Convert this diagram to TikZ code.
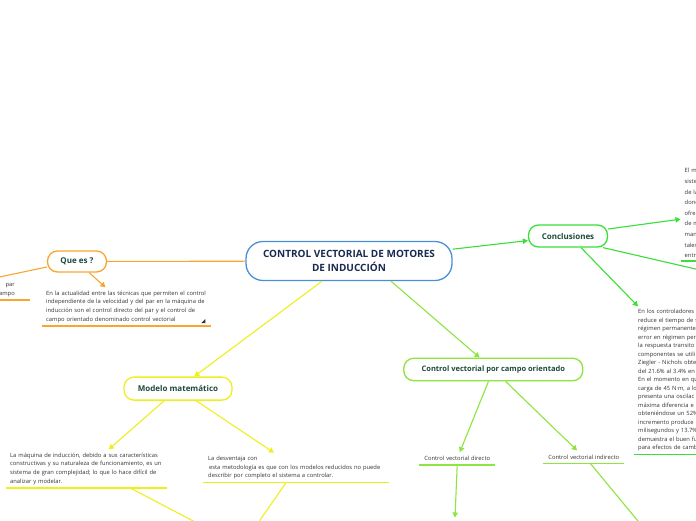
\documentclass[tikz,border=0pt]{standalone}
\usepackage{fontspec}
\setmainfont{Open Sans}
\usetikzlibrary{arrows.meta,calc}
\definecolor{cOr}{HTML}{F9A630}
\definecolor{cYel}{HTML}{EFEF1E}
\definecolor{cLg}{HTML}{8EE53F}
\definecolor{cGr}{HTML}{3ADF3A}
\definecolor{cBlue}{HTML}{4A90D9}
\definecolor{cNavy}{HTML}{1A2B50}
\definecolor{cTitle}{HTML}{1D4A3A}
\definecolor{cBody}{HTML}{333333}
\newcommand\Lin[1]{\makebox[0pt][l]{#1}}
\begin{document}
\begin{tikzpicture}[x=1pt,y=-1pt,
  conn/.style={line width=1.1pt},
  arr/.style={conn,-{Triangle[length=5pt,width=5.5pt]}},
  topic/.style={draw,line width=1.3pt,rounded corners=10pt,font=\bfseries\fontsize{8}{10}\selectfont,text=cTitle,inner sep=0pt},
  txt/.style={inner xsep=4pt,inner ysep=3pt,align=left,text=cBody,font=\fontsize{5.8}{8.8}\selectfont},
  ul/.style={line width=1.6pt}]
\useasboundingbox (0,0) rectangle (696,520);
\fill[white] (0,0) rectangle (696,520);

% topics
\node[topic,draw=cBlue,minimum width=206pt,minimum height=39pt,rounded corners=17pt,text=cNavy,font=\bfseries\fontsize{10}{13.3}\selectfont,align=center] (central) at (349,261) {CONTROL VECTORIAL DE MOTORES\\DE INDUCCIÓN};
\node[topic,draw=cOr,minimum width=59pt,minimum height=21pt] (quees) at (77,261.5) {Que es ?};
\node[topic,draw=cYel,minimum width=108pt,minimum height=23pt] (modelo) at (178,388.6) {Modelo matemático};
\node[topic,draw=cLg,minimum width=179pt,minimum height=22.5pt,font=\bfseries\fontsize{7.5}{9}\selectfont] (cvpc) at (493.3,369.5) {Control vectorial por campo orientado};
\node[topic,draw=cGr,minimum width=79pt,minimum height=22pt] (concl) at (568,236) {Conclusiones};

% text blocks
\node[txt,text width=161pt,anchor=south west] (actual) at (42,326) {\Lin{En la actualidad entre las técnicas que permiten el control}\\\Lin{independiente de la velocidad y del par en la máquina de}\\\Lin{inducción son el control directo del par y el control de}\\\Lin{campo orientado denominado control vectorial}};
\draw[ul,cOr] (actual.south west) -- (actual.south east);
\fill[black!80] ([shift={(-6,-3)}]actual.south east) -- ++(0,-4) -- ++(-4,4) -- cycle;

\node[txt,align=right,text width=26pt,anchor=south east] (parcampo) at (19,300) {par\\campo};
\draw[ul,cOr] (parcampo.south west) -- ([xshift=11pt]parcampo.south east);

\node[txt,text width=153pt,anchor=south west] (maq) at (6,488) {\Lin{La máquina de inducción, debido a sus características}\\\Lin{constructivas y su naturaleza de funcionamiento, es un}\\\Lin{sistema de gran complejidad; lo que lo hace difícil de}\\\Lin{analizar y modelar.}};
\draw[ul,cYel] (maq.south west) -- (maq.south east);

\node[txt,text width=176pt,anchor=south west,inner xsep=5pt] (desv) at (203,482.5) {\Lin{La desventaja con}\\\Lin{\,esta metodología es que con los modelos reducidos no puede}\\\Lin{describir por completo el sistema a controlar.}};
\draw[ul,cYel] (desv.south west) -- (desv.south east);

\node[txt,align=center,text width=68pt,anchor=south west,inner ysep=4pt] (directo) at (419,465) {Control vectorial directo};
\draw[ul,cLg] (directo.south west) -- (directo.south east);

\node[txt,align=center,text width=73pt,anchor=south west,inner ysep=4pt] (indirecto) at (543,463.3) {Control vectorial indirecto};
\draw[ul,cLg] (indirecto.south west) -- (indirecto.south east);

\node[txt,text width=60pt,anchor=south west,font=\fontsize{5.8}{10.6}\selectfont] (concl1) at (680.5,261) {\Lin{El m}\\\Lin{siste}\\\Lin{de la}\\\Lin{donc}\\\Lin{ofre}\\\Lin{de m}\\\Lin{man}\\\Lin{tales}\\\Lin{entr}};
\draw[ul,cGr] (concl1.south west) -- (concl1.south east);

\node[txt,text width=80pt,anchor=south west,font=\fontsize{5.8}{8.5}\selectfont] (concl2) at (634,454.5) {\Lin{En los controladores}\\\Lin{reduce el tiempo de s}\\\Lin{régimen permanente}\\\Lin{error en régimen per}\\\Lin{la respuesta transito}\\\Lin{componentes se utili}\\\Lin{Ziegler - Nichols obte}\\\Lin{del 21.6\% al 3.4\% en}\\\Lin{En el momento en qu}\\\Lin{carga de 45 N·m, a lo}\\\Lin{presenta una oscilac}\\\Lin{máxima diferencia e}\\\Lin{obteniéndose un 52\%}\\\Lin{incremento produce}\\\Lin{milisegundos y 13.7\%}\\\Lin{demuestra el buen fu}\\\Lin{para efectos de camb}};
\draw[ul,cGr] (concl2.south west) -- (concl2.south east);

% off-canvas endpoints
\coordinate (offL) at (-10,279);
\coordinate (maqout) at (197,523);
\coordinate (desvout) at (258,523);
\coordinate (dirout) at (455,517.5);
\coordinate (indout) at (639.6,523);
\coordinate (offR) at (700,270);

% connectors
\draw[conn,cOr] (central) -- (quees);
\draw[conn,cOr] ([yshift=-5.5pt]quees.west) -- (offL);
\draw[arr,cOr] (quees) -- (actual);

\draw[arr,cYel] (central) -- (modelo);
\draw[arr,cYel] (modelo) -- (maq);
\draw[arr,cYel] (modelo) -- (desv);
\draw[conn,cYel] ($(maq.south west)!0.77!(maq.south east)$) -- (maqout);
\draw[conn,cYel] ($(desv.south west)!0.446!(desv.south east)$) -- (desvout);

\draw[arr,cLg] ([xshift=42pt]central.south) -- (cvpc);
\draw[arr,cLg] (cvpc) -- (directo);
\draw[arr,cLg] (cvpc) -- (indirecto);
\draw[arr,cLg] (directo.south) -- (dirout);
\draw[conn,cLg] ($(indirecto.south west)!0.58!(indirecto.south east)$) -- (indout);

\draw[arr,cGr] (central) -- (concl);
\draw[arr,cGr] ([yshift=7pt]concl.east) -- ([yshift=-6pt]concl1.west);
\draw[conn,cGr] ([xshift=-5pt]concl.south east) -- (offR);
\draw[arr,cGr] ([xshift=13pt]concl.south) -- ([xshift=4pt]concl2.north west);
\end{tikzpicture}
\end{document}
